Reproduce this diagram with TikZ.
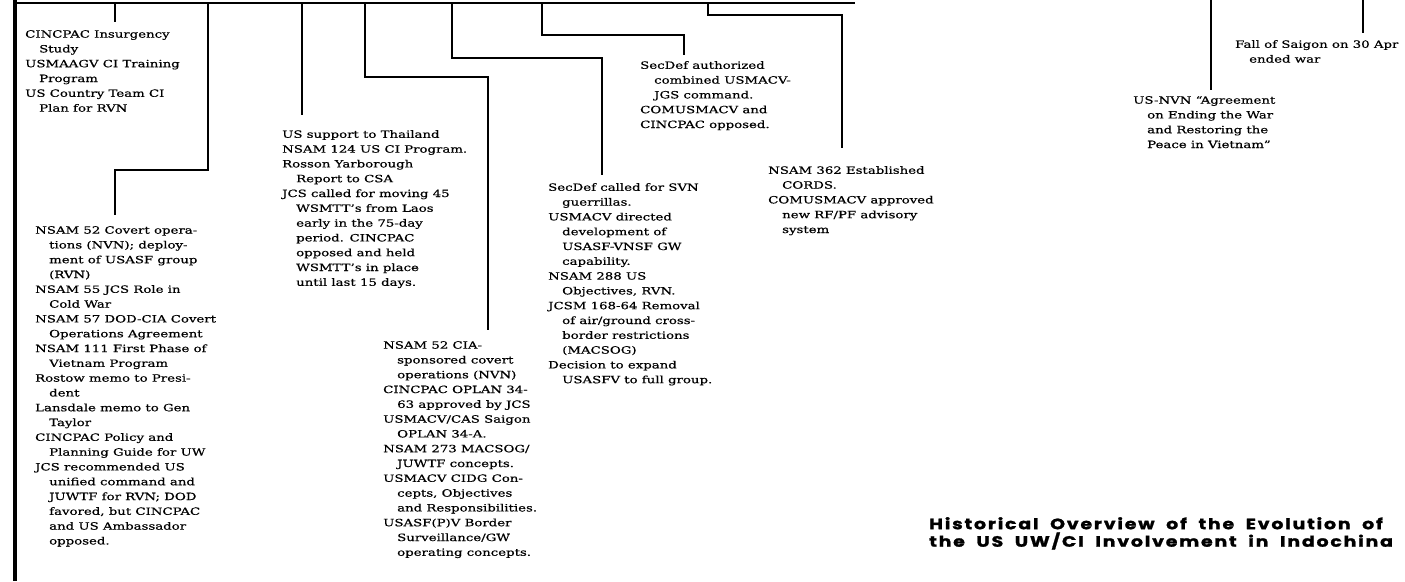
\documentclass[tikz,border=0pt]{standalone}
\usepackage{fontspec}
\setmainfont{DejaVu Serif}[FakeStretch=1.33,FakeBold=0.6]
\newfontfamily\titlefont{Poppins}[FakeStretch=1.26,LetterSpace=12,
	WordSpace=2,BoldFeatures={FakeBold=1.5}]

\begin{document}
\begin{tikzpicture}[x=1pt,y=-1pt]

% indent of a run-on line
\def\ind{\hspace*{14pt}}
% styles
\tikzstyle{note} = [
	anchor=north west, inner sep=0, align=left,
	font=\fontsize{10}{14.8}\selectfont ];
\tikzstyle{stem} = [line width=2.8pt];
\tikzstyle{heading} = [
	anchor=north west, inner sep=0, align=left,
	font=\titlefont\bfseries\fontsize{15}{17.5}\selectfont ];

\useasboundingbox (0,0) rectangle (1405,581);

\coordinate (l0) at (15,0);
\coordinate (l1) at (15,581);
\coordinate (bl) at (13,3);
\coordinate (br) at (855,3);

\coordinate (t1) at (115,3);
\coordinate (t2) at (208,3);
\coordinate (t3) at (302,3);
\coordinate (t4) at (365,3);
\coordinate (t5) at (452,3);
\coordinate (t6) at (542,3);
\coordinate (t7) at (708,3);
\coordinate (t8) at (1211,0);
\coordinate (t9) at (1363,0);

\coordinate (k2) at (115,170);
\coordinate (k4) at (488,77);
\coordinate (k5) at (602,58);
\coordinate (k6) at (684,35);
\coordinate (k7) at (842,15);

\node[note] (nsA) at (25,30) {CINCPAC Insurgency\\
\ind Study\\
USMAAGV CI Training\\
\ind Program\\
US Country Team CI\\
\ind Plan for RVN};

\node[note] (nsB) at (35,226) {NSAM 52 Covert opera-\\
\ind tions (NVN); deploy-\\
\ind ment of USASF group\\
\ind (RVN)\\
NSAM 55 JCS Role in\\
\ind Cold War\\
NSAM 57 DOD-CIA Covert\\
\ind Operations Agreement\\
NSAM 111 First Phase of\\
\ind Vietnam Program\\
Rostow memo to Presi-\\
\ind dent\\
Lansdale memo to Gen\\
\ind Taylor\\
CINCPAC Policy and\\
\ind Planning Guide for UW\\
JCS recommended US\\
\ind unified command and\\
\ind JUWTF for RVN; DOD\\
\ind favored, but CINCPAC\\
\ind and US Ambassador\\
\ind opposed.};

\node[note] (nsC) at (282,130) {US support to Thailand\\
NSAM 124 US CI Program.\\
Rosson Yarborough\\
\ind Report to CSA\\
JCS called for moving 45\\
\ind WSMTT's from Laos\\
\ind early in the 75-day\\
\ind period. CINCPAC\\
\ind opposed and held\\
\ind WSMTT's in place\\
\ind until last 15 days.};

\node[note] (nsD) at (383,341) {NSAM 52 CIA-\\
\ind sponsored covert\\
\ind operations (NVN)\\
CINCPAC OPLAN 34-\\
\ind 63 approved by JCS\\
USMACV/CAS Saigon\\
\ind OPLAN 34-A.\\
NSAM 273 MACSOG/\\
\ind JUWTF concepts.\\
USMACV CIDG Con-\\
\ind cepts, Objectives\\
\ind and Responsibilities.\\
USASF(P)V Border\\
\ind Surveillance/GW\\
\ind operating concepts.};

\node[note] (nsE) at (548,183) {SecDef called for SVN\\
\ind guerrillas.\\
USMACV directed\\
\ind development of\\
\ind USASF-VNSF GW\\
\ind capability.\\
NSAM 288 US\\
\ind Objectives, RVN.\\
JCSM 168-64 Removal\\
\ind of air/ground cross-\\
\ind border restrictions\\
\ind (MACSOG)\\
Decision to expand\\
\ind USASFV to full group.};

\node[note] (nsF) at (640,61) {SecDef authorized\\
\ind combined USMACV-\\
\ind JGS command.\\
COMUSMACV and\\
CINCPAC opposed.};

\node[note] (nsG) at (768,166) {NSAM 362 Established\\
\ind CORDS.\\
COMUSMACV approved\\
\ind new RF/PF advisory\\
\ind system};

\node[note] (nsH) at (1133,96) {US-NVN ``Agreement\\
\ind on Ending the War\\
\ind and Restoring the\\
\ind Peace in Vietnam''};

\node[note] (nsI) at (1235,40) {Fall of Saigon on 30 Apr\\
\ind ended war};

\node[heading] (title) at (929,517) {Historical Overview of the Evolution of\\
the US UW/CI Involvement in Indochina};

\draw[stem] (bl) -- (br);
\draw[stem, line width=3.2pt] (l0) -- (l1);

\draw[stem] (t1) -- ++(0,19);
\draw[stem] (t2) |- (k2) -- ([yshift=11pt]nsB.north -| k2);
\draw[stem] (t3) -- ([yshift=15pt]nsC.north -| t3);
\draw[stem] (t4) |- (k4) -- ([yshift=11pt]nsD.north -| k4);
\draw[stem] (t5) |- (k5) -- ([yshift=8pt]nsE.north -| k5);
\draw[stem] (t6) |- (k6) -- ([yshift=6pt]nsF.north -| k6);
\draw[stem] (t7) |- (k7) -- ([yshift=18pt]nsG.north -| k7);
\draw[stem] (t8) -- ([yshift=6pt]nsH.north -| t8);
\draw[stem] (t9) -- ([yshift=7pt]nsI.north -| t9);

\end{tikzpicture}
\end{document}
